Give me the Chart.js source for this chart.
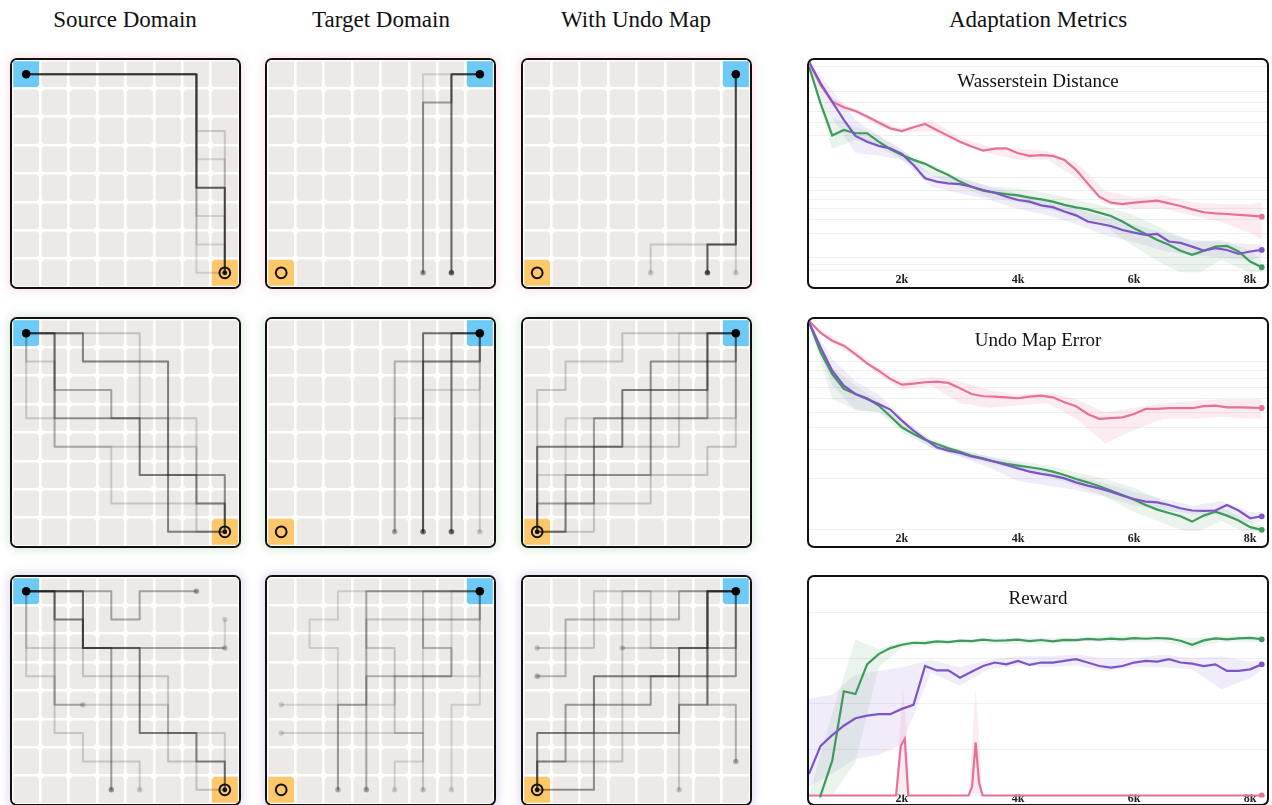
<!DOCTYPE html>
<html>
<head>
<meta charset="utf-8">
<script src="https://cdn.jsdelivr.net/npm/chart.js@4.4.1/dist/chart.umd.min.js"></script>
<style>
  body { margin: 0; width: 1272px; height: 805px; background: #fff; position: relative; overflow: hidden; font-family: "Liberation Serif", serif; color: #111; }
  .head { position: absolute; top: 8px; width: 320px; font-size: 23px; line-height: 23px; text-align: center; }
  .panel { position: absolute; width: 231px; height: 231px; box-sizing: border-box; border: 2px solid #111; border-radius: 7px; background: #fff; overflow: hidden; }
  .metric { position: absolute; width: 462px; height: 231px; box-sizing: border-box; border: 2px solid #111; border-radius: 7px; background: #fff; overflow: hidden; }
  .mtitle { position: absolute; left: 0; right: 0; top: 11px; font-size: 19px; line-height: 19px; text-align: center; }
  canvas { display: block; }
</style>
</head>
<body>
<div class="head" style="left:-35px">Source Domain</div>
<div class="head" style="left:221px">Target Domain</div>
<div class="head" style="left:476px">With Undo Map</div>
<div class="head" style="left:878px">Adaptation Metrics</div>

<div class="panel" style="left:10px;top:58px;box-shadow:0 0 9px 3px rgba(240,140,170,0.22)"><canvas id="g11" width="227" height="227"></canvas></div>
<div class="panel" style="left:265px;top:58px;box-shadow:0 0 9px 3px rgba(240,140,170,0.22)"><canvas id="g12" width="227" height="227"></canvas></div>
<div class="panel" style="left:521px;top:58px;box-shadow:0 0 9px 3px rgba(240,140,170,0.22)"><canvas id="g13" width="227" height="227"></canvas></div>
<div class="panel" style="left:10px;top:317px;box-shadow:0 0 9px 3px rgba(110,185,125,0.22)"><canvas id="g21" width="227" height="227"></canvas></div>
<div class="panel" style="left:265px;top:317px;box-shadow:0 0 9px 3px rgba(110,185,125,0.22)"><canvas id="g22" width="227" height="227"></canvas></div>
<div class="panel" style="left:521px;top:317px;box-shadow:0 0 9px 3px rgba(110,185,125,0.22)"><canvas id="g23" width="227" height="227"></canvas></div>
<div class="panel" style="left:10px;top:575px;box-shadow:0 0 9px 3px rgba(150,120,205,0.24)"><canvas id="g31" width="227" height="227"></canvas></div>
<div class="panel" style="left:265px;top:575px;box-shadow:0 0 9px 3px rgba(150,120,205,0.24)"><canvas id="g32" width="227" height="227"></canvas></div>
<div class="panel" style="left:521px;top:575px;box-shadow:0 0 9px 3px rgba(150,120,205,0.24)"><canvas id="g33" width="227" height="227"></canvas></div>

<div class="metric" style="left:807px;top:58px"><canvas id="m1" width="458" height="227"></canvas><div class="mtitle">Wasserstein Distance</div></div>
<div class="metric" style="left:807px;top:317px"><canvas id="m2" width="458" height="227"></canvas><div class="mtitle">Undo Map Error</div></div>
<div class="metric" style="left:807px;top:575px"><canvas id="m3" width="458" height="227"></canvas><div class="mtitle">Reward</div></div>

<script>
// ---------- grid world data (cells are [col, row], row 0 at top) ----------
const srcStart = [0, 0], srcGoal = [7, 7];
const tgtStart = [7, 0], tgtGoal = [0, 7];

const pathsSrc1 = [
  { a: 0.7, dot: false, pts: [[0,0],[6,0],[6,4],[7,4],[7,7]] },
  { a: 0.18, dot: false, pts: [[0,0],[6,0],[6,2],[7,2],[7,7]] },
  { a: 0.15, dot: false, pts: [[0,0],[6,0],[6,3],[7,3],[7,7]] },
  { a: 0.15, dot: false, pts: [[0,0],[6,0],[6,5],[7,5],[7,7]] },
  { a: 0.15, dot: false, pts: [[0,0],[6,0],[6,6],[7,6],[7,7]] },
  { a: 0.15, dot: false, pts: [[0,0],[6,0],[6,7],[7,7]] }
];
const pathsTgt1 = [
  { a: 0.65, dot: true, pts: [[7,0],[6,0],[6,7]] },
  { a: 0.4, dot: true, pts: [[7,0],[6,0],[6,1],[5,1],[5,7]] },
  { a: 0.15, dot: false, pts: [[7,0],[5,0],[5,7]] }
];
const pathsUndo1 = [
  { a: 0.7, dot: true, pts: [[7,0],[7,6],[6,6],[6,7]] },
  { a: 0.18, dot: true, pts: [[7,0],[7,7]] },
  { a: 0.18, dot: true, pts: [[7,0],[7,6],[4,6],[4,7]] }
];

const pathsSrc2 = [
  { a: 0.45, dot: false, pts: [[0,0],[1,0],[1,3],[4,3],[4,5],[6,5],[6,6],[7,6],[7,7]] },
  { a: 0.4, dot: false, pts: [[0,0],[2,0],[2,1],[5,1],[5,7],[7,7]] },
  { a: 0.35, dot: false, pts: [[0,0],[1,0],[1,2],[3,2],[3,3],[5,3],[5,5],[7,5],[7,7]] },
  { a: 0.2, dot: false, pts: [[0,0],[4,0],[4,4],[6,4],[6,7],[7,7]] },
  { a: 0.18, dot: false, pts: [[0,0],[0,3],[1,3],[1,4],[3,4],[3,6],[5,6],[5,7],[7,7]] },
  { a: 0.18, dot: false, pts: [[0,0],[0,1],[1,1],[1,4],[4,4],[4,5],[5,5],[5,6],[7,6],[7,7]] },
  { a: 0.18, dot: false, pts: [[0,0],[2,0],[2,1],[5,1],[5,3],[6,3],[6,5],[7,5],[7,7]] }
];
const pathsTgt2 = [
  { a: 0.6, dot: true, pts: [[7,0],[6,0],[6,7]] },
  { a: 0.6, dot: true, pts: [[7,0],[5,0],[5,7]] },
  { a: 0.3, dot: true, pts: [[7,0],[7,1],[4,1],[4,7]] },
  { a: 0.25, dot: false, pts: [[7,0],[7,1],[5,1],[5,7]] },
  { a: 0.18, dot: true, pts: [[7,0],[7,7]] },
  { a: 0.15, dot: false, pts: [[7,0],[7,2],[5,2],[5,7]] },
  { a: 0.15, dot: false, pts: [[7,0],[7,1],[5,1],[5,3],[4,3],[4,7]] }
];
const pathsUndo2 = [
  { a: 0.55, dot: false, pts: [[7,0],[6,0],[6,2],[3,2],[3,4],[0,4],[0,7]] },
  { a: 0.45, dot: false, pts: [[7,0],[7,1],[4,1],[4,5],[1,5],[1,7],[0,7]] },
  { a: 0.4, dot: false, pts: [[7,0],[6,0],[6,3],[2,3],[2,6],[0,6],[0,7]] },
  { a: 0.2, dot: false, pts: [[7,0],[3,0],[3,1],[1,1],[1,2],[0,2],[0,7]] },
  { a: 0.2, dot: false, pts: [[7,0],[7,4],[6,4],[6,5],[4,5],[4,6],[1,6],[1,7],[0,7]] },
  { a: 0.2, dot: false, pts: [[7,0],[7,3],[5,3],[5,4],[2,4],[2,7],[0,7]] },
  { a: 0.15, dot: false, pts: [[7,0],[5,0],[5,3],[1,3],[1,5],[0,5],[0,7]] }
];

const pathsSrc3 = [
  { a: 0.55, dot: false, pts: [[0,0],[1,0],[1,1],[2,1],[2,2],[4,2],[4,5],[6,5],[6,6],[7,6],[7,7]] },
  { a: 0.4, dot: true, pts: [[0,0],[2,0],[2,2],[3,2],[3,7]] },
  { a: 0.35, dot: true, pts: [[0,0],[3,0],[3,1],[4,1],[4,0],[6,0]] },
  { a: 0.25, dot: true, pts: [[0,0],[2,0],[2,2],[7,2]] },
  { a: 0.15, dot: true, pts: [[0,0],[1,0],[1,2],[7,2],[7,1]] },
  { a: 0.2, dot: false, pts: [[0,0],[2,0],[2,3],[5,3],[5,6],[6,6],[6,7],[7,7]] },
  { a: 0.2, dot: true, pts: [[0,0],[1,0],[1,4],[2,4]] },
  { a: 0.18, dot: true, pts: [[0,0],[0,3],[1,3],[1,5],[2,5],[2,6],[4,6],[4,7]] },
  { a: 0.18, dot: false, pts: [[0,0],[0,2],[1,2],[1,4],[5,4],[5,5],[7,5],[7,7]] }
];
const pathsTgt3 = [
  { a: 0.35, dot: true, pts: [[7,0],[3,0],[3,7]] },
  { a: 0.3, dot: true, pts: [[7,0],[5,0],[5,2],[6,2],[6,3],[3,3],[3,4],[2,4],[2,7]] },
  { a: 0.2, dot: true, pts: [[7,0],[7,1],[3,1],[3,2],[4,2],[4,5],[5,5],[5,7]] },
  { a: 0.15, dot: false, pts: [[7,0],[2,0],[2,1],[1,1],[1,2],[2,2],[2,7]] },
  { a: 0.15, dot: true, pts: [[7,0],[7,4],[6,4],[6,7]] },
  { a: 0.15, dot: true, pts: [[7,0],[7,3],[4,3],[4,4],[0,4]] },
  { a: 0.15, dot: true, pts: [[7,0],[7,1],[5,1],[5,5],[0,5]] },
  { a: 0.15, dot: true, pts: [[7,0],[6,0],[6,3],[5,3],[5,6],[4,6],[4,7]] }
];
const pathsUndo3 = [
  { a: 0.55, dot: false, pts: [[7,0],[6,0],[6,2],[5,2],[5,3],[2,3],[2,5],[0,5],[0,7]] },
  { a: 0.45, dot: false, pts: [[7,0],[7,3],[6,3],[6,4],[5,4],[5,5],[2,5],[2,7],[0,7]] },
  { a: 0.4, dot: false, pts: [[7,0],[6,0],[6,3],[4,3],[4,4],[1,4],[1,6],[0,6],[0,7]] },
  { a: 0.3, dot: true, pts: [[7,0],[5,0],[5,1],[1,1],[1,3],[0,3]] },
  { a: 0.2, dot: true, pts: [[7,0],[7,2],[4,2],[4,0],[2,0],[2,2],[0,2]] },
  { a: 0.3, dot: true, pts: [[7,0],[6,0],[6,4],[7,4],[7,6]] },
  { a: 0.2, dot: true, pts: [[7,0],[7,2],[3,2]] },
  { a: 0.2, dot: false, pts: [[7,0],[3,0],[3,6],[0,6],[0,7]] },
  { a: 0.2, dot: true, pts: [[7,0],[6,0],[6,3],[5,3],[5,7]] }
];

// ---------- metric data ----------
const steps = [400,600,800,1000,1200,1400,1600,1800,2000,2200,2400,2600,2800,3000,3200,3400,3600,3800,4000,4200,
               4400,4600,4800,5000,5200,5400,5600,5800,6000,6200,6400,6600,6800,7000,7200,7400,7600,7800,8000,8200];
const bandSteps = [400,800,1200,1600,2000,2500,3000,3500,4000,4500,5000,5500,6000,6500,7000,7500,8000,8200];
const xTicks = [2000, 4000, 6000, 8000];

const wdPink = [0.99,0.887,0.812,0.787,0.770,0.745,0.718,0.692,0.680,0.697,0.712,0.685,0.658,0.632,0.610,0.592,0.601,0.602,0.580,0.568,
                0.571,0.568,0.550,0.505,0.444,0.384,0.357,0.351,0.357,0.362,0.366,0.354,0.342,0.327,0.314,0.309,0.306,0.302,0.299,0.294];
const wdGreen = [0.970,0.805,0.660,0.685,0.670,0.670,0.632,0.598,0.572,0.550,0.532,0.505,0.482,0.452,0.429,0.411,0.402,0.396,0.390,0.380,
                 0.372,0.362,0.347,0.336,0.327,0.312,0.297,0.272,0.242,0.216,0.189,0.167,0.140,0.122,0.140,0.159,0.162,0.137,0.092,0.066];
const wdPurple = [0.992,0.895,0.812,0.730,0.658,0.632,0.613,0.602,0.577,0.527,0.467,0.452,0.444,0.441,0.429,0.414,0.402,0.384,0.369,0.362,
                  0.345,0.337,0.317,0.300,0.272,0.262,0.252,0.234,0.222,0.212,0.216,0.182,0.176,0.159,0.141,0.152,0.144,0.126,0.137,0.144];
const wdPinkHi = [0.99,0.83,0.78,0.73,0.69,0.73,0.65,0.61,0.60,0.59,0.54,0.41,0.38,0.39,0.36,0.35,0.35,0.36];
const wdPinkLo = [0.98,0.79,0.76,0.70,0.67,0.68,0.62,0.58,0.55,0.55,0.47,0.35,0.33,0.33,0.30,0.27,0.22,0.19];
const wdGreenHi = [0.98,0.74,0.70,0.66,0.59,0.53,0.47,0.43,0.42,0.40,0.37,0.34,0.30,0.24,0.18,0.19,0.14,0.10];
const wdGreenLo = [0.95,0.60,0.64,0.61,0.55,0.48,0.43,0.38,0.36,0.33,0.29,0.25,0.16,0.08,0.02,0.10,0.04,0.03];
const wdPurpleHi = [0.99,0.86,0.73,0.66,0.60,0.48,0.47,0.43,0.40,0.37,0.33,0.29,0.26,0.22,0.19,0.18,0.17,0.17];
const wdPurpleLo = [0.98,0.74,0.58,0.57,0.55,0.43,0.40,0.37,0.33,0.30,0.26,0.21,0.18,0.14,0.12,0.11,0.10,0.11];
const wdGrid = [0.05,0.08,0.11,0.22,0.28,0.33,0.37,0.41,0.47,0.66,0.72,0.77,0.81,0.86,0.97];

const uePink = [0.992,0.937,0.902,0.880,0.842,0.800,0.767,0.730,0.704,0.709,0.715,0.718,0.712,0.688,0.662,0.652,0.650,0.647,0.643,0.650,
                0.655,0.647,0.625,0.607,0.572,0.550,0.553,0.557,0.572,0.595,0.595,0.598,0.598,0.598,0.607,0.610,0.602,0.602,0.601,0.599];
const ueGreen = [0.985,0.850,0.752,0.685,0.662,0.643,0.610,0.562,0.512,0.482,0.456,0.437,0.417,0.402,0.384,0.372,0.357,0.347,0.339,0.332,
                 0.324,0.312,0.297,0.279,0.264,0.246,0.227,0.207,0.186,0.162,0.141,0.126,0.111,0.087,0.114,0.132,0.114,0.092,0.062,0.050];
const uePurple = [0.985,0.872,0.767,0.700,0.662,0.640,0.617,0.592,0.542,0.497,0.459,0.422,0.407,0.396,0.381,0.369,0.357,0.342,0.327,0.312,
                  0.302,0.294,0.282,0.264,0.249,0.237,0.222,0.204,0.189,0.177,0.174,0.162,0.147,0.137,0.135,0.137,0.162,0.137,0.102,0.111];
const uePinkHi = [0.99,0.92,0.86,0.78,0.72,0.74,0.72,0.68,0.66,0.67,0.64,0.58,0.60,0.62,0.63,0.64,0.64,0.64];
const uePinkLo = [0.98,0.89,0.83,0.75,0.68,0.70,0.62,0.60,0.61,0.62,0.55,0.44,0.50,0.55,0.55,0.56,0.55,0.55];
const ueGreenHi = [0.99,0.78,0.70,0.63,0.53,0.46,0.41,0.38,0.36,0.34,0.31,0.28,0.24,0.18,0.13,0.15,0.09,0.07];
const ueGreenLo = [0.98,0.64,0.59,0.58,0.49,0.42,0.38,0.35,0.32,0.29,0.25,0.20,0.13,0.08,0.03,0.09,0.03,0.02];
const uePurpleHi = [0.99,0.82,0.72,0.66,0.56,0.45,0.41,0.38,0.35,0.32,0.29,0.26,0.22,0.19,0.16,0.18,0.13,0.13];
const uePurpleLo = [0.98,0.70,0.59,0.58,0.52,0.42,0.38,0.33,0.27,0.25,0.23,0.20,0.16,0.14,0.12,0.12,0.08,0.09];
const ueGrid = [0.05,0.28,0.41,0.51,0.58,0.64,0.69,0.73,0.77,0.81];

const rwGreen = [-0.25,0.00,0.19,0.569,0.554,0.716,0.772,0.805,0.823,0.834,0.832,0.842,0.838,0.846,0.843,0.851,0.845,0.847,0.851,0.843,
                 0.849,0.842,0.850,0.848,0.855,0.851,0.857,0.853,0.859,0.856,0.860,0.857,0.845,0.823,0.847,0.858,0.852,0.858,0.861,0.853];
const rwPurple = [0.118,0.271,0.330,0.381,0.422,0.436,0.444,0.444,0.473,0.495,0.707,0.683,0.683,0.643,0.676,0.707,0.726,0.716,0.735,0.713,
                  0.726,0.726,0.735,0.744,0.726,0.707,0.698,0.707,0.726,0.735,0.731,0.744,0.726,0.720,0.707,0.716,0.680,0.680,0.689,0.716];
const rwPinkSteps = [400,1900,1980,2050,2110,3150,3210,3270,3330,3390,8200];
const rwPink = [0,0,0.27,0.31,0,0,0.05,0.29,0.07,0,0];
const rwPinkBandSteps = [400,1900,1960,2020,2080,2140,3150,3210,3270,3330,3390,8200];
const rwPinkHi = [0,0,0.35,0.59,0.35,0,0,0.30,0.58,0.30,0,0];
const rwPinkLo = [0,0,0,0,0,0,0,0,0,0,0,0];
const rwGreenHi = [0,0.45,0.85,0.80,0.84,0.85,0.85,0.86,0.86,0.86,0.86,0.87,0.87,0.87,0.86,0.87,0.87,0.87];
const rwGreenLo = [0,0,0.18,0.70,0.81,0.82,0.83,0.83,0.83,0.83,0.84,0.84,0.84,0.84,0.80,0.84,0.84,0.84];
const rwPurpleHi = [0.53,0.55,0.66,0.68,0.70,0.74,0.70,0.74,0.76,0.76,0.77,0.75,0.75,0.77,0.75,0.76,0.73,0.74];
const rwPurpleLo = [0.05,0.12,0.20,0.22,0.28,0.67,0.60,0.69,0.71,0.70,0.71,0.68,0.70,0.70,0.69,0.58,0.64,0.69];
const rwGrid = [0, 0.25, 0.5, 0.75, 1.0];

const PINK = '#e5709a', GREEN = '#3e9b5b', PURPLE = '#7d55c7';
const PINK_BAND = 'rgba(229,112,154,0.13)', GREEN_BAND = 'rgba(62,155,91,0.11)', PURPLE_BAND = 'rgba(125,85,199,0.11)';

Chart.defaults.font.family = '"Liberation Serif", serif';

// gray cell background behind the white grid lines
const cellBg = {
  id: 'cellBg',
  beforeDraw(chart, args, opts) {
    if (!opts.color) return;
    const a = chart.chartArea, ctx = chart.ctx;
    ctx.save();
    ctx.fillStyle = opts.color;
    ctx.fillRect(a.left, a.top, a.right - a.left, a.bottom - a.top);
    ctx.restore();
  }
};

function cellXY(c) {
  return { x: c[0] + 0.5, y: c[1] + 0.5 };
}

function drawGrid(id, start, goal, reached, paths) {
  let joints = [];
  for (let i = 1; i < 8; i++) for (let j = 1; j < 8; j++) joints.push({ x: i, y: j });

  let ds = [];
  ds.push({ data: [cellXY(start)], pointStyle: 'rect', pointRadius: 18.3, backgroundColor: '#6dc9f5', borderWidth: 0, order: 30 });
  ds.push({ data: [cellXY(goal)], pointStyle: 'rect', pointRadius: 18.3, backgroundColor: '#fec86a', borderWidth: 0, order: 30 });
  ds.push({ data: joints, pointRadius: 3.2, backgroundColor: '#ffffff', borderWidth: 0, order: 29 });

  paths.forEach(p => {
    let col = 'rgba(25,25,25,' + p.a + ')';
    ds.push({ data: p.pts.map(cellXY), showLine: true, borderColor: col, borderWidth: 2, pointRadius: 0,
              borderJoinStyle: 'round', borderCapStyle: 'round', order: 10 });
    if (p.dot) {
      ds.push({ data: [cellXY(p.pts[p.pts.length - 1])], pointRadius: 2.8, backgroundColor: col, borderWidth: 0, order: 9 });
    }
  });

  ds.push({ data: [cellXY(start)], pointRadius: 4.3, backgroundColor: '#000', borderWidth: 0, order: 2 });
  ds.push({ data: [cellXY(goal)], pointRadius: 5.4, backgroundColor: 'rgba(0,0,0,0)', borderColor: '#111', borderWidth: 2, order: 2 });
  if (reached) ds.push({ data: [cellXY(goal)], pointRadius: 2.4, backgroundColor: '#111', borderWidth: 0, order: 1 });

  let axis = {
    min: 0, max: 8,
    ticks: { display: false, stepSize: 1 },
    grid: { color: '#ffffff', lineWidth: 2.6, drawTicks: false },
    border: { display: false }
  };

  new Chart(document.getElementById(id), {
    type: 'scatter',
    data: { datasets: ds },
    options: {
      responsive: false,
      animation: false,
      events: [],
      layout: { padding: 0, autoPadding: false },
      plugins: { legend: { display: false }, tooltip: { enabled: false }, cellBg: { color: '#ece9e7' } },
      scales: { x: axis, y: Object.assign({}, axis, { reverse: true }) }
    },
    plugins: [cellBg]
  });
}

function pts(xs, ys) {
  return xs.map((x, i) => ({ x: x, y: ys[i] }));
}

function drawMetric(id, lines, bands, yGrid, yMin, yMax, tickPad) {
  let ds = [];
  bands.forEach(b => {
    ds.push({ data: pts(b.x, b.lo), borderWidth: 0, pointRadius: 0, fill: false, order: 20 });
    ds.push({ data: pts(b.x, b.hi), borderWidth: 0, pointRadius: 0, fill: '-1', backgroundColor: b.color, order: 20 });
  });
  lines.forEach((l, k) => {
    let n = l.y.length;
    ds.push({ data: pts(l.x, l.y), borderColor: l.color, backgroundColor: l.color, borderWidth: 2.2, clip: 3,
              pointRadius: ctx => (ctx.dataIndex === n - 1 ? 1.8 : 0), tension: 0, order: 10 - k });
  });

  new Chart(document.getElementById(id), {
    type: 'line',
    data: { datasets: ds },
    options: {
      responsive: false,
      animation: false,
      events: [],
      layout: { padding: 0, autoPadding: false },
      plugins: { legend: { display: false }, tooltip: { enabled: false } },
      scales: {
        x: {
          type: 'linear', min: 400, max: 8290,
          afterBuildTicks: s => { s.ticks = xTicks.map(v => ({ value: v })); },
          ticks: { callback: v => v / 1000 + 'k', font: { size: 12, weight: 'bold' }, color: '#222', padding: tickPad, maxRotation: 0, autoSkip: false },
          grid: { display: false, drawTicks: false },
          border: { display: false }
        },
        y: {
          min: yMin, max: yMax,
          afterBuildTicks: s => { s.ticks = yGrid.map(v => ({ value: v })); },
          ticks: { display: false },
          grid: { color: '#f0f0f0', lineWidth: 1, drawTicks: false },
          border: { display: false }
        }
      }
    }
  });
}

drawGrid('g11', srcStart, srcGoal, true, pathsSrc1);
drawGrid('g12', tgtStart, tgtGoal, false, pathsTgt1);
drawGrid('g13', tgtStart, tgtGoal, false, pathsUndo1);
drawGrid('g21', srcStart, srcGoal, true, pathsSrc2);
drawGrid('g22', tgtStart, tgtGoal, false, pathsTgt2);
drawGrid('g23', tgtStart, tgtGoal, true, pathsUndo2);
drawGrid('g31', srcStart, srcGoal, true, pathsSrc3);
drawGrid('g32', tgtStart, tgtGoal, false, pathsTgt3);
drawGrid('g33', tgtStart, tgtGoal, true, pathsUndo3);

drawMetric('m1',
  [ { x: steps, y: wdPink, color: PINK }, { x: steps, y: wdGreen, color: GREEN }, { x: steps, y: wdPurple, color: PURPLE } ],
  [ { x: bandSteps, lo: wdPinkLo, hi: wdPinkHi, color: PINK_BAND },
    { x: bandSteps, lo: wdGreenLo, hi: wdGreenHi, color: GREEN_BAND },
    { x: bandSteps, lo: wdPurpleLo, hi: wdPurpleHi, color: PURPLE_BAND } ],
  wdGrid, 0.042, 1, 0);

drawMetric('m2',
  [ { x: steps, y: uePink, color: PINK }, { x: steps, y: ueGreen, color: GREEN }, { x: steps, y: uePurple, color: PURPLE } ],
  [ { x: bandSteps, lo: uePinkLo, hi: uePinkHi, color: PINK_BAND },
    { x: bandSteps, lo: ueGreenLo, hi: ueGreenHi, color: GREEN_BAND },
    { x: bandSteps, lo: uePurpleLo, hi: uePurpleHi, color: PURPLE_BAND } ],
  ueGrid, 0.042, 1, 0);

drawMetric('m3',
  [ { x: rwPinkSteps, y: rwPink, color: PINK }, { x: steps, y: rwGreen, color: GREEN }, { x: steps, y: rwPurple, color: PURPLE } ],
  [ { x: rwPinkBandSteps, lo: rwPinkLo, hi: rwPinkHi, color: PINK_BAND },
    { x: bandSteps, lo: rwGreenLo, hi: rwGreenHi, color: GREEN_BAND },
    { x: bandSteps, lo: rwPurpleLo, hi: rwPurpleHi, color: PURPLE_BAND } ],
  rwGrid, 0.005, 1.193, -2.5);
</script>
</body>
</html>
